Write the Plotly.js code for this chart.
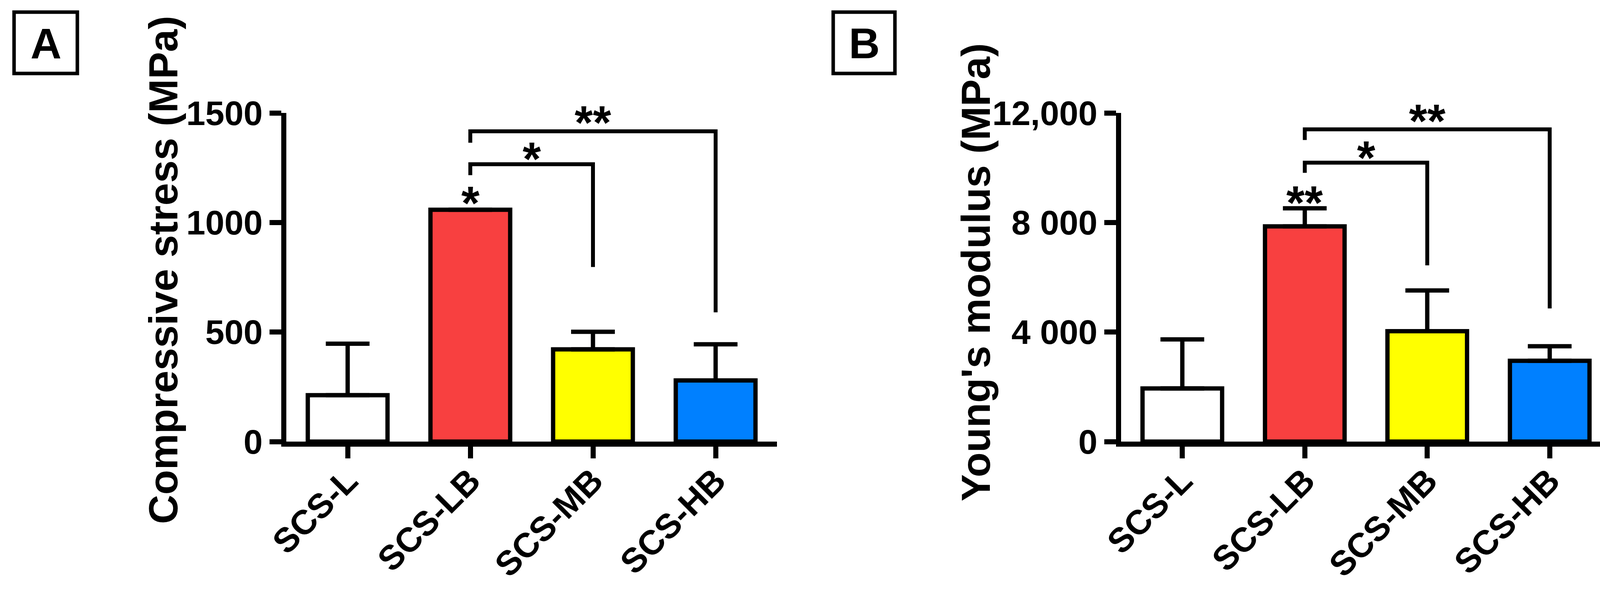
<!DOCTYPE html>
<html>
<head>
<meta charset="utf-8">
<script src="https://cdn.plot.ly/plotly-3.0.1.min.js"></script>
<style>
  html, body { margin: 0; padding: 0; background: #fff; }
  #chart { width: 4165px; height: 1520px; }
</style>
</head>
<body>
<div id="chart"></div>
<script>
// groups (same for both panels)
const groups = ["SCS-L", "SCS-LB", "SCS-MB", "SCS-HB"];
const barColors = ["#FFFFFF", "#F84040", "#FFFF00", "#0080FF"];

// panel A: compressive stress (MPa), mean and upper SD
const stressMean = [212, 1058, 421, 279];
const stressSD = [235, 0, 80, 165];

// panel B: Young's modulus (MPa), mean and upper SD
const modulusMean = [1940, 7860, 4030, 2950];
const modulusSD = [1790, 660, 1490, 530];

// y ticks
const stressTicks = [0, 500, 1000, 1500];
const stressTickText = ["0", "500", "1000", "1500"];
const modulusTicks = [0, 4000, 8000, 12000];
const modulusTickText = ["0", "4 000", "8 000", "12,000"];

// significance brackets: [from, to, bar height, left end, right end, label, label centre]
const stressBrackets = [
  [1, 2, 1266, 1216, 797, "*", 1338],
  [1, 3, 1416, 1364, 590, "**", 1504],
];
const modulusBrackets = [
  [1, 2, 10183, 9812, 6436, "*", 10755],
  [1, 3, 11400, 11013, 4863, "**", 12086],
];
// stars above single bars: [group, label centre, label]
const stressStars = [[1, 1136, "*"]];
const modulusStars = [[1, 9110, "**"]];

const FONT = "Liberation Sans, Arial, sans-serif";
const W = 4165, H = 1520;
const PLOT_TOP = 289, PLOT_BOTTOM = 1130;
const STAR = 120;
const px = (v) => v / W;
const py = (v) => 1 - v / H;

function barTrace(means, sds, xa, ya) {
  return {
    type: "bar",
    x: groups,
    y: means,
    xaxis: xa,
    yaxis: ya,
    width: 0.65,
    marker: { color: barColors, line: { color: "#000", width: 11 } },
    error_y: {
      type: "data",
      symmetric: false,
      array: sds,
      arrayminus: sds.map(() => 0),
      color: "#000",
      thickness: 11,
      width: 56,
    },
    hoverinfo: "skip",
  };
}

function bracketTraces(brackets, xa, ya) {
  return brackets.map((b) => ({
    type: "scatter",
    mode: "lines",
    x: [groups[b[0]], groups[b[0]], groups[b[1]], groups[b[1]]],
    y: [b[3], b[2], b[2], b[4]],
    xaxis: xa,
    yaxis: ya,
    line: { color: "#000", width: 10 },
    cliponaxis: false,
    hoverinfo: "skip",
  }));
}

function starNote(x, y, text, xa, ya, ymax) {
  // plotly hides axis-referenced notes outside the range, so clamp
  // and make up the difference with a pixel shift; asterisks also sit
  // high in the line box, pull them down to centre on y
  const yIn = Math.min(y, ymax);
  const extra = ((y - yIn) / ymax) * (PLOT_BOTTOM - PLOT_TOP);
  return {
    xref: xa, yref: ya, x: x, y: yIn, text: text,
    showarrow: false, xanchor: "center", yanchor: "middle",
    yshift: extra - 0.22 * STAR,
    font: { family: FONT, size: STAR, color: "#000", weight: "bold" },
  };
}

function starNotes(brackets, stars, xa, ya, ymax) {
  const notes = brackets.map((b) =>
    starNote((b[0] + b[1]) / 2, b[6], b[5], xa, ya, ymax));
  stars.forEach((s) => notes.push(starNote(s[0], s[1], s[2], xa, ya, ymax)));
  return notes;
}

const xBase = {
  type: "category",
  range: [-0.5, 3.5],
  showline: true,
  linecolor: "#000",
  linewidth: 13,
  ticks: "outside",
  ticklen: 30,
  tickwidth: 13,
  tickcolor: "#000",
  tickangle: -45,
  ticklabelstandoff: -30,
  tickfont: { family: FONT, size: 88, color: "#000", weight: "bold" },
  showgrid: false,
  zeroline: false,
  automargin: false,
  fixedrange: true,
};

const yBase = {
  showline: true,
  linecolor: "#000",
  linewidth: 13,
  ticks: "outside",
  ticklen: 30,
  tickwidth: 13,
  tickcolor: "#000",
  tickfont: { family: FONT, size: 88, color: "#000", weight: "bold" },
  showgrid: false,
  zeroline: false,
  automargin: false,
  fixedrange: true,
};

const yDomain = [py(PLOT_BOTTOM), py(PLOT_TOP)];

const data = [
  barTrace(stressMean, stressSD, "x", "y"),
  barTrace(modulusMean, modulusSD, "x2", "y2"),
  ...bracketTraces(stressBrackets, "x", "y"),
  ...bracketTraces(modulusBrackets, "x2", "y2"),
];

const titleFont = { family: FONT, size: 104, color: "#000", weight: "bold" };
const letterFont = { family: FONT, size: 110, color: "#000", weight: "bold" };

const layout = {
  width: W,
  height: H,
  margin: { l: 0, r: 0, t: 0, b: 0 },
  paper_bgcolor: "#fff",
  plot_bgcolor: "rgba(0,0,0,0)",
  showlegend: false,
  xaxis: { ...xBase, domain: [px(733), px(1989)], anchor: "y" },
  yaxis: {
    ...yBase, domain: yDomain, anchor: "x",
    range: [0, 1500], tickvals: stressTicks, ticktext: stressTickText,
  },
  xaxis2: { ...xBase, domain: [px(2870), px(4124)], anchor: "y2" },
  yaxis2: {
    ...yBase, domain: yDomain, anchor: "x2",
    range: [0, 12000], tickvals: modulusTicks, ticktext: modulusTickText,
  },
  shapes: [
    { type: "rect", xref: "paper", yref: "paper",
      x0: px(36), x1: px(198), y0: py(188), y1: py(31),
      line: { color: "#000", width: 9 }, fillcolor: "rgba(0,0,0,0)" },
    { type: "rect", xref: "paper", yref: "paper",
      x0: px(2133), x1: px(2291), y0: py(188), y1: py(31),
      line: { color: "#000", width: 9 }, fillcolor: "rgba(0,0,0,0)" },
  ],
  annotations: [
    { xref: "paper", yref: "paper", x: px(117), y: py(110), text: "A",
      showarrow: false, xanchor: "center", yanchor: "middle", font: letterFont },
    { xref: "paper", yref: "paper", x: px(2212), y: py(110), text: "B",
      showarrow: false, xanchor: "center", yanchor: "middle", font: letterFont },
    { xref: "paper", yref: "paper", x: px(418), y: py(691),
      text: "Compressive stress (MPa)", textangle: -90,
      showarrow: false, xanchor: "center", yanchor: "middle", font: titleFont },
    { xref: "paper", yref: "paper", x: px(2498), y: py(697),
      text: "Young's modulus (MPa)", textangle: -90,
      showarrow: false, xanchor: "center", yanchor: "middle", font: titleFont },
    ...starNotes(stressBrackets, stressStars, "x", "y", 1500),
    ...starNotes(modulusBrackets, modulusStars, "x2", "y2", 12000),
  ],
};

Plotly.newPlot("chart", data, layout, { displayModeBar: false, staticPlot: true });
</script>
</body>
</html>
